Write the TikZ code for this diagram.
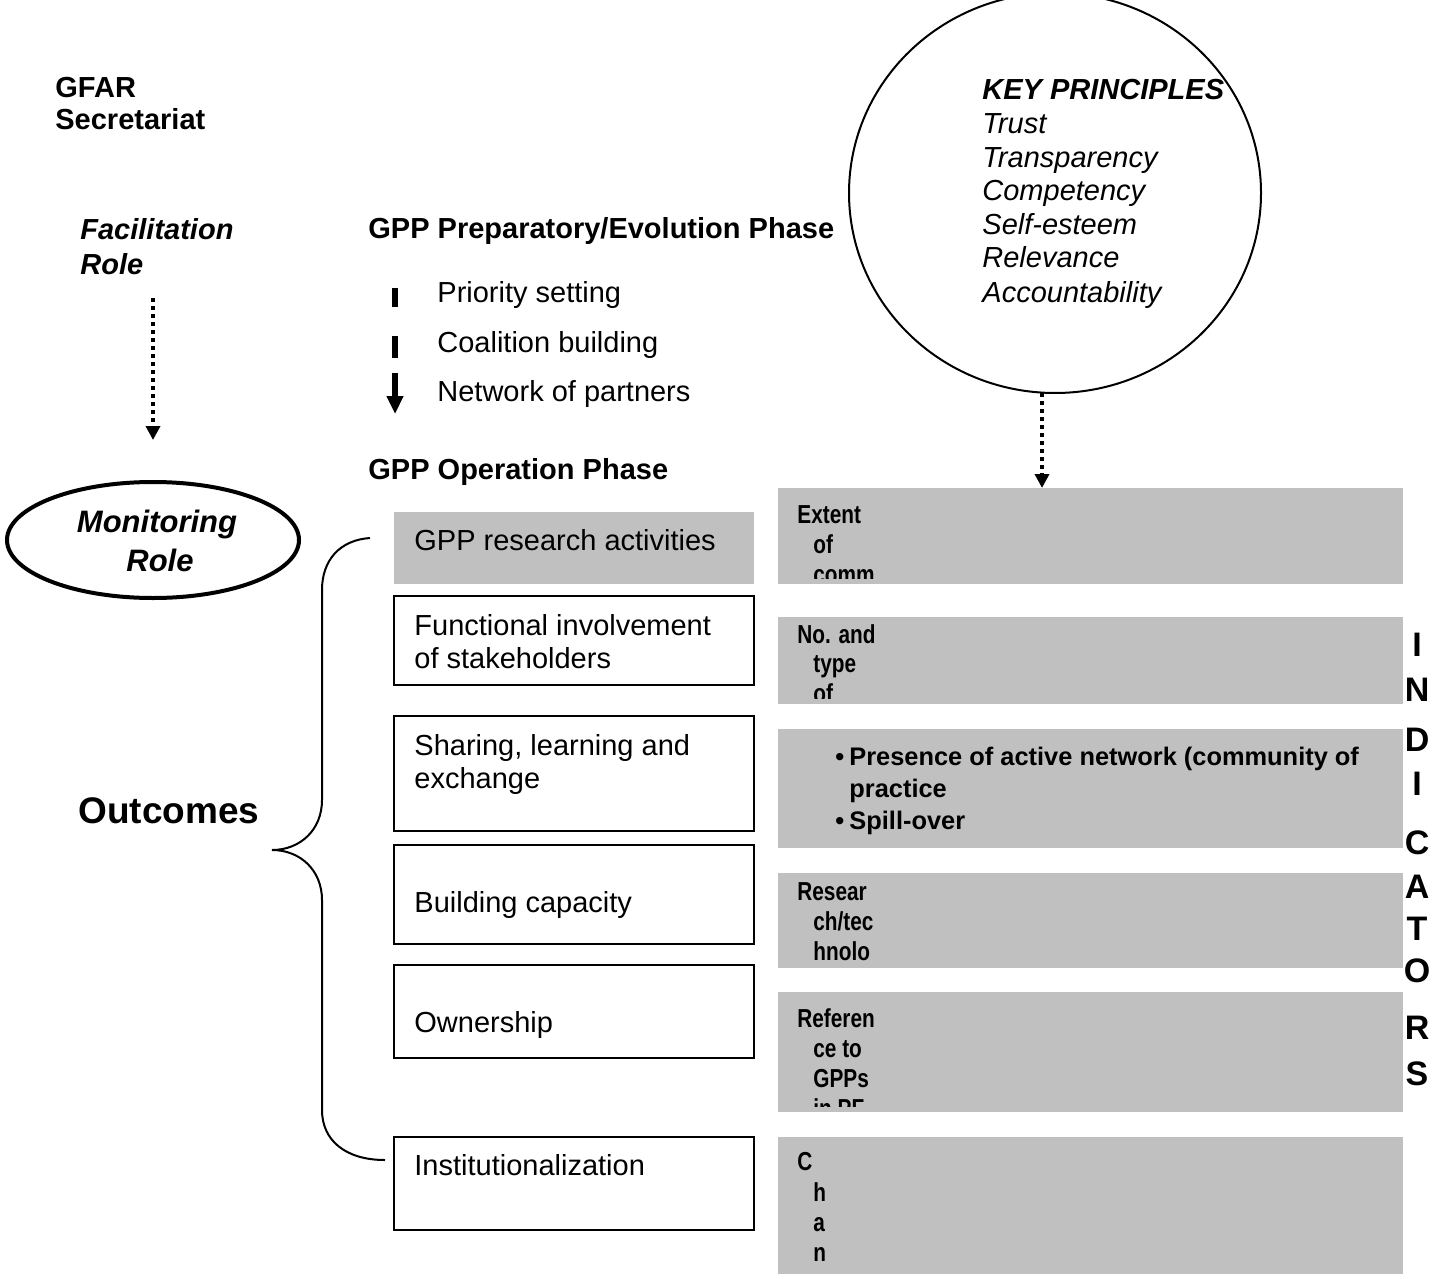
\documentclass[tikz,border=0pt]{standalone}
\usepackage{fontspec}
\setmainfont{Liberation Sans}
\newfontfamily\condfont[FakeStretch=0.8]{Liberation Sans}
\usetikzlibrary{arrows.meta}
\newcommand{\fsz}[1]{\fontsize{#1}{#1}\selectfont}
\tikzset{
  txt/.style={anchor=base west, inner sep=0pt, font=\fsz{14.5pt}},
  btxt/.style={txt, font=\fsz{14.5pt}\bfseries},
  bitxt/.style={txt, font=\fsz{14.5pt}\bfseries\itshape},
  itxt/.style={txt, font=\fsz{14.5pt}\itshape},
  ctxt/.style={anchor=base west, inner sep=0pt, font=\fsz{13pt}\condfont\bfseries},
  gtxt/.style={anchor=base west, inner sep=0pt, font=\fsz{12.7pt}\bfseries},
  vletter/.style={anchor=center, inner sep=0pt, font=\fsz{17pt}\bfseries},
  montxt/.style={anchor=base, inner sep=0pt, font=\fsz{15.5pt}\bfseries\itshape},
  graybox/.style={fill=boxgray, draw=none},
  whitebox/.style={draw=black, line width=1pt, fill=white},
  dottedarrow/.style={line width=2pt, dash pattern=on 2pt off 2pt, -{Triangle[length=7pt 0 0, width=7pt 0 0]}},
  thickseg/.style={line width=3pt},
}
\definecolor{boxgray}{HTML}{C0C0C0}
\begin{document}
\begin{tikzpicture}[x=0.5pt, y=-0.5pt]
\useasboundingbox (0,0) rectangle (1443,1278);

% GFAR header
\node[btxt] (gfar1) at (55,98) {GFAR};
\node[btxt] (gfar2) at (55,130) {Secretariat};
\node[bitxt] (fac1) at (80,240) {Facilitation};
\node[bitxt] (fac2) at (80,275) {Role};
\coordinate (facs) at (153,298);
\coordinate (face) at (153,440);
\draw[dottedarrow] (facs) -- (face);

% Monitoring role ellipse
\draw[line width=2pt] (153,540) ellipse [x radius=146, y radius=58];
\node[montxt] (mon1) at (157,532) {Monitoring};
\node[montxt] (mon2) at (160,571) {Role};

% Preparatory phase
\node[btxt] (prep) at (368,239) {GPP Preparatory/Evolution Phase};
\node[txt] (p1) at (437,303) {Priority setting};
\node[txt] (p2) at (437,352) {Coalition building};
\node[txt] (p3) at (437,401) {Network of partners};
\coordinate (d1a) at (395,288); \coordinate (d1b) at (395,307);
\coordinate (d2a) at (395,336); \coordinate (d2b) at (395,358);
\coordinate (d3a) at (395,373); \coordinate (d3b) at (395,414);
\draw[thickseg] (d1a) -- (d1b);
\draw[thickseg] (d2a) -- (d2b);
\draw[thickseg, -{Triangle[length=9pt 0 0, width=8pt 0 0]}] (d3a) -- (d3b);

\node[btxt] (oper) at (368,479) {GPP Operation Phase};

% Key principles ellipse
\draw[line width=1pt] (1055,193) ellipse [x radius=206, y radius=200];
\node[bitxt] (kp0) at (982,100) {KEY PRINCIPLES};
\node[itxt] (kp1) at (982,134) {Trust};
\node[itxt] (kp2) at (982,168) {Transparency};
\node[itxt] (kp3) at (982,201) {Competency};
\node[itxt] (kp4) at (982,235) {Self-esteem};
\node[itxt] (kp5) at (982,268) {Relevance};
\node[itxt] (kp6) at (982,302) {Accountability};
\coordinate (kps) at (1042,393);
\coordinate (kpe) at (1042,488);

% INDICATORS letters
\node[vletter] (i1) at (1417,645) {I};
\node[vletter] (i2) at (1417,690) {N};
\node[vletter] (i3) at (1417,740) {D};
\node[vletter] (i4) at (1417,784) {I};
\node[vletter] (i5) at (1417,843) {C};
\node[vletter] (i6) at (1417,887) {A};
\node[vletter] (i7) at (1417,929) {T};
\node[vletter] (i8) at (1417,971) {O};
\node[vletter] (i9) at (1417,1028) {R};
\node[vletter] (i10) at (1417,1074) {S};

% Left boxes
\fill[graybox] (394,512) rectangle (754,584);
\node[txt] (l1) at (414,550) {GPP research activities};
\draw[whitebox] (394,596) rectangle (754,685);
\node[txt] (l2a) at (414,635) {Functional involvement};
\node[txt] (l2b) at (414,668) {of stakeholders};
\draw[whitebox] (394,716) rectangle (754,831);
\node[txt] (l3a) at (414,755) {Sharing, learning and};
\node[txt] (l3b) at (414,788) {exchange};
\draw[whitebox] (394,845) rectangle (754,944);
\node[txt] (l4) at (414,912) {Building capacity};
\draw[whitebox] (394,965) rectangle (754,1058);
\node[txt] (l5) at (414,1032) {Ownership};
\draw[whitebox] (394,1137) rectangle (754,1230);
\node[txt] (l6) at (414,1175) {Institutionalization};

% Right gray boxes
\fill[graybox] (778,488) rectangle (1403,584);
\begin{scope}
\clip (778,488) rectangle (1403,578);
\node[ctxt] (r1a) at (797,523) {Extent};
\node[ctxt] (r1b) at (813,553) {of};
\node[ctxt] (r1c) at (813,583) {comm};
\end{scope}
\draw[dottedarrow] (kps) -- (kpe);

\fill[graybox] (778,617) rectangle (1403,704);
\begin{scope}
\clip (778,617) rectangle (1403,698);
\node[ctxt] (r2a) at (797,643) {No. and};
\node[ctxt] (r2b) at (813,672) {type};
\node[ctxt] (r2c) at (813,702) {of};
\end{scope}

\fill[graybox] (778,729) rectangle (1403,848);
\node[gtxt] (r3b1) at (835,765) {\textbullet};
\node[gtxt] (r3a) at (849,765) {Presence of active network (community of};
\node[gtxt] (r3b) at (849,797) {practice};
\node[gtxt] (r3b2) at (835,829) {\textbullet};
\node[gtxt] (r3c) at (849,829) {Spill-over};

\fill[graybox] (778,873) rectangle (1403,968);
\begin{scope}
\clip (778,873) rectangle (1403,962);
\node[ctxt] (r4a) at (797,900) {Resear};
\node[ctxt] (r4b) at (813,930) {ch/tec};
\node[ctxt] (r4c) at (813,960) {hnolo};
\end{scope}

\fill[graybox] (778,992) rectangle (1403,1112);
\begin{scope}
\clip (778,992) rectangle (1403,1106);
\node[ctxt] (r5a) at (797,1027) {Referen};
\node[ctxt] (r5b) at (813,1057) {ce to};
\node[ctxt] (r5c) at (813,1087) {GPPs};
\node[ctxt] (r5d) at (813,1117) {in PF};
\end{scope}

\fill[graybox] (778,1137) rectangle (1403,1274);
\node[ctxt] (r6a) at (797,1170) {C};
\node[ctxt] (r6b) at (813,1201) {h};
\node[ctxt] (r6c) at (813,1231) {a};
\node[ctxt] (r6d) at (813,1261) {n};

% Outcomes and brace
\node[anchor=base west, inner sep=0pt, font=\fsz{18.5pt}\bfseries] (outc) at (78,823) {Outcomes};
\draw[line width=1pt] (370,538) .. controls (340,540) and (322,560) .. (322,590)
  -- (322,800) .. controls (322,830) and (300,850) .. (272,850)
  .. controls (300,850) and (322,870) .. (322,900)
  -- (322,1110) .. controls (322,1140) and (345,1160) .. (385,1160);
\end{tikzpicture}
\end{document}
